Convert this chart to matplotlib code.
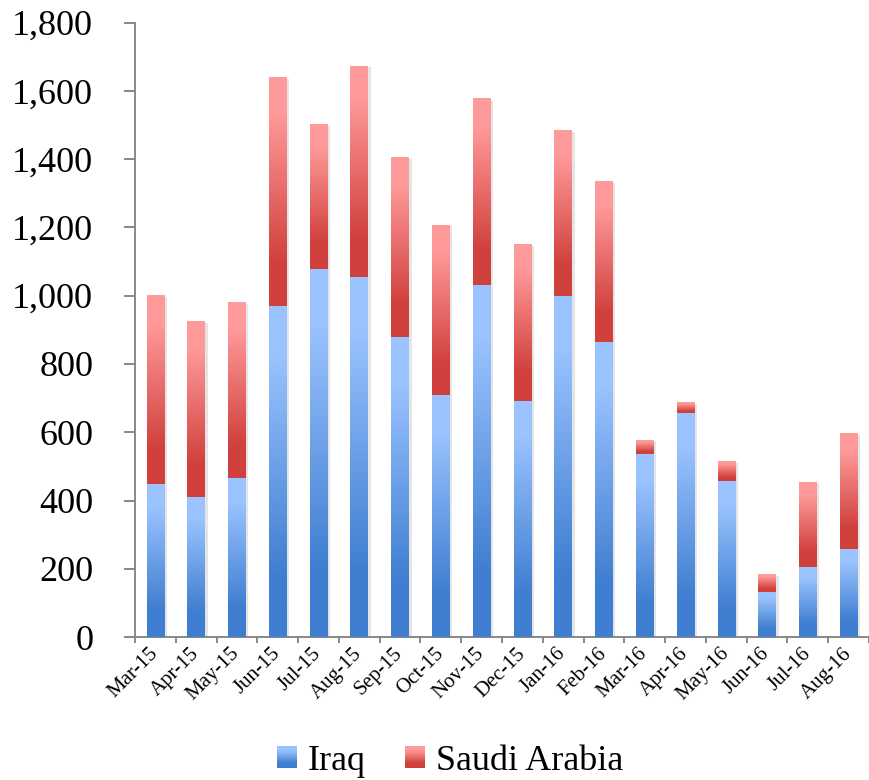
import matplotlib
matplotlib.use('Agg')
import matplotlib.pyplot as plt
import numpy as np
from matplotlib.colors import LinearSegmentedColormap
from matplotlib.patches import Rectangle
from matplotlib.legend_handler import HandlerBase
import matplotlib.patheffects as pe

months = ['Mar-15', 'Apr-15', 'May-15', 'Jun-15', 'Jul-15', 'Aug-15',
          'Sep-15', 'Oct-15', 'Nov-15', 'Dec-15', 'Jan-16', 'Feb-16',
          'Mar-16', 'Apr-16', 'May-16', 'Jun-16', 'Jul-16', 'Aug-16']
iraq  = [448, 410, 466, 970, 1078, 1055, 879, 709, 1031, 691, 999, 864,
         537, 656, 457, 132, 205, 258]
saudi = [552, 513, 515, 670, 422, 618, 527, 498, 545, 460, 486, 469,
         40, 30, 56, 50, 249, 337]
yticks = [0, 200, 400, 600, 800, 1000, 1200, 1400, 1600, 1800]

BLUE_DARK  = '#3F7ED0'
BLUE_LIGHT = '#9AC3FF'
RED_DARK   = '#D0403C'
RED_LIGHT  = '#FF9A9A'
AXIS_COLOR = '#888888'
BAR_WIDTH  = 0.43

plt.rcParams['font.family'] = ['Liberation Serif', 'DejaVu Serif']


def make_cmap(dark, light):
  return LinearSegmentedColormap.from_list(
    'g', [(0.0, dark), (0.18, dark), (0.85, light), (1.0, light)])


blue_cmap = make_cmap(BLUE_DARK, BLUE_LIGHT)
red_cmap  = make_cmap(RED_DARK, RED_LIGHT)
grad = np.linspace(0, 1, 256).reshape(-1, 1)


def fill_gradient(ax, bars, cmap):
  # paint each bar patch with a vertical gradient (dark bottom, light top)
  for b in bars:
    x0, y0 = b.get_x(), b.get_y()
    w, h = b.get_width(), b.get_height()
    if h <= 0:
      continue
    ax.imshow(grad, cmap=cmap, extent=[x0, x0 + w, y0, y0 + h],
              origin='lower', aspect='auto', interpolation='bilinear',
              zorder=3)


class GradientHandler(HandlerBase):
  def __init__(self, cmap):
    super().__init__()
    self.cmap = cmap

  def create_artists(self, legend, orig, xdescent, ydescent, width, height,
                     fontsize, trans):
    n = 20
    arts = []
    for i in range(n):
      c = self.cmap(i / (n - 1))
      r = Rectangle((-xdescent, -ydescent + height * i / n), width,
                    height / n + 0.3, facecolor=c, edgecolor='none',
                    transform=trans)
      arts.append(r)
    return arts


fig = plt.figure(figsize=(8.69, 7.80), dpi=100)
ax = fig.add_axes([0.1553, 0.1833, 0.8447, 0.7876])

x = np.arange(len(months))
shadow = [pe.SimplePatchShadow(offset=(2, -1), shadow_rgbFace='#aaaaaa',
                               alpha=0.3), pe.Normal()]

b1 = ax.bar(x, iraq, width=BAR_WIDTH, color=BLUE_DARK, zorder=2,
            path_effects=shadow, label='Iraq')
b2 = ax.bar(x, saudi, width=BAR_WIDTH, bottom=iraq, color=RED_DARK,
            zorder=2, path_effects=shadow, label='Saudi Arabia')
fill_gradient(ax, b1, blue_cmap)
fill_gradient(ax, b2, red_cmap)

ax.set_xlim(-0.5, len(months) - 0.5)
ax.set_ylim(0, 1800)

ax.spines['top'].set_visible(False)
ax.spines['right'].set_visible(False)
for s in ('left', 'bottom'):
  ax.spines[s].set_color(AXIS_COLOR)
  ax.spines[s].set_linewidth(1.4)

ax.set_yticks(yticks)
ax.set_yticklabels([f'{v:,}' for v in yticks], fontsize=26)
ax.tick_params(axis='y', direction='out', length=8, width=1.4,
               color=AXIS_COLOR, pad=22)

# category labels at centres, tick marks on category boundaries
ax.set_xticks(x)
ax.set_xticklabels(months, rotation=45, ha='right', va='center',
                   rotation_mode='anchor', fontsize=15)
ax.tick_params(axis='x', which='major', length=0, pad=10)
ax.set_xticks(np.arange(-0.5, len(months), 1), minor=True)
ax.tick_params(axis='x', which='minor', direction='out', length=4,
               width=1.4, color=AXIS_COLOR)

leg = fig.legend(handles=[b1, b2], labels=['Iraq', 'Saudi Arabia'],
                 loc='center', bbox_to_anchor=(0.518, 0.024), ncol=2,
                 frameon=False, fontsize=26, handlelength=0.55,
                 handleheight=0.55, handletextpad=0.3, columnspacing=1.1,
                 handler_map={b1: GradientHandler(blue_cmap),
                              b2: GradientHandler(red_cmap)})

fig.savefig('out.png', dpi=100, facecolor='white')
